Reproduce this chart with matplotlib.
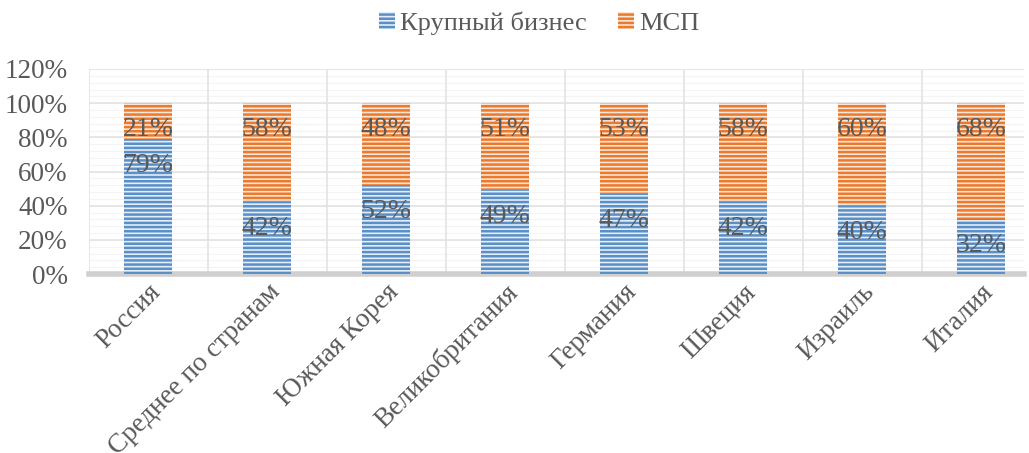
import matplotlib.pyplot as plt
import numpy as np

plt.rcParams['font.family'] = ['Liberation Serif', 'DejaVu Serif']
plt.rcParams['hatch.linewidth'] = 1.8

categories = ['Россия', 'Среднее по странам', 'Южная Корея', 'Великобритания',
              'Германия', 'Швеция', 'Израиль', 'Италия']
large = [79, 42, 52, 49, 47, 42, 40, 32]
sme = [21, 58, 48, 51, 53, 58, 60, 68]
series_names = ['Крупный бизнес', 'МСП']

grey = '#595959'
fig = plt.figure(figsize=(10.29, 4.53), dpi=100)
ax = fig.add_axes([88.5 / 1029, 1 - 274 / 453, (1024 - 88.5) / 1029, 205 / 453])

x = np.arange(len(categories))
large_f = np.array(large) / 100
sme_f = np.array(sme) / 100
w = 48 / 119

b1 = ax.bar(x, large_f, w, color='#E3EEF9', edgecolor='#5B8FC7', hatch='----',
            linewidth=0, label=series_names[0], zorder=3)
b2 = ax.bar(x, sme_f, w, bottom=large_f, color='#FCE5D5', edgecolor='#E97A2E',
            hatch='----', linewidth=0, label=series_names[1], zorder=3)

for i in range(len(x)):
    ax.text(x[i], large_f[i] - 0.155, f'{large[i]}%', ha='center', va='center',
            fontsize=20, color=grey, zorder=4)
    ax.text(x[i], 1.0 - 0.155, f'{sme[i]}%', ha='center', va='center',
            fontsize=20, color=grey, zorder=4)

ax.set_xlim(-0.5, (1024 - 88.5) / 119 - 0.5)
ax.set_ylim(0, 1.2)
ax.set_yticks(np.arange(0, 1.21, 0.2))
ax.set_yticklabels([f'{int(v)}%' for v in np.arange(0, 121, 20)], fontsize=19.5, color=grey)
ax.tick_params(axis='y', which='both', length=0, pad=15)
ax.tick_params(axis='x', length=0, pad=4)

ax.set_xticks(x)
ax.set_xticklabels(categories, rotation=45, ha='right', rotation_mode='anchor',
                   fontsize=19.5, color=grey)

for v in np.arange(0, 1.21, 0.04):
    ax.axhline(v, color='#F4F4F4', linewidth=0.8, zorder=0)
for v in np.arange(0.2, 1.21, 0.2):
    ax.axhline(v, color='#E3E3E3', linewidth=1.2, zorder=1)
for v in np.arange(0.5, 7.5, 1):
    ax.axvline(v, color='#E3E3E3', linewidth=1.2, zorder=1)
ax.axvline(-0.5, color='#E3E3E3', linewidth=1.2, zorder=1)

for s in ['top', 'right', 'left']:
    ax.spines[s].set_visible(False)
ax.spines['bottom'].set_color('#D0D0D0')
ax.spines['bottom'].set_linewidth(4)

leg = fig.legend(handles=[b1, b2], labels=series_names, loc='center',
                 bbox_to_anchor=(0.524, 1 - 23 / 453), ncol=2, frameon=False,
                 fontsize=19, handlelength=0.6, handleheight=0.6, columnspacing=1.2,
                 handletextpad=0.2)
for t in leg.get_texts():
    t.set_color(grey)

fig.savefig('out.png', dpi=100)
